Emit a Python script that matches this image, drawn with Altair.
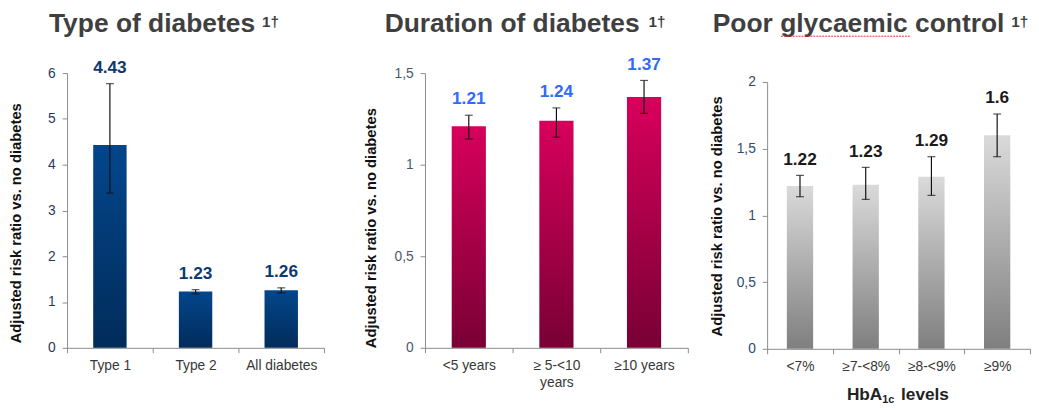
import altair as alt
import pandas as pd

FONT = "Liberation Sans"

# ---------------- data ----------------
type_cats = ["Type 1", "Type 2", "All diabetes"]
type_vals = [4.43, 1.23, 1.26]
type_lo = [3.38, 1.18, 1.20]
type_hi = [5.77, 1.27, 1.31]

dur_cats = ["<5 years", "≥ 5-<10|years", "≥10 years"]
dur_vals = [1.21, 1.24, 1.37]
dur_lo = [1.14, 1.15, 1.28]
dur_hi = [1.27, 1.31, 1.46]

hba_cats = ["<7%", "≥7-<8%", "≥8-<9%", "≥9%"]
hba_vals = [1.22, 1.23, 1.29, 1.6]
hba_lo = [1.14, 1.12, 1.15, 1.44]
hba_hi = [1.30, 1.36, 1.44, 1.76]

titles = ["Type of diabetes", "Duration of diabetes", "Poor glycaemic control"]
title_sup = "1†"
y_title = "Adjusted risk ratio vs. no diabetes"
x_title_parts = ["HbA", "1c", "levels"]

AXIS_GRAY = "#8a8a8a"


def gradient(top, bottom):
    return alt.LinearGradient(
        gradient="linear",
        stops=[alt.GradientStop(color=top, offset=0), alt.GradientStop(color=bottom, offset=1)],
        x1=0, x2=0, y1=0, y2=1,
    )


def panel(cats, vals, lo, hi, *, width, height, ymax, ytop, yvals, band, top, bottom,
          val_color, ylab_color, title_pad, title_y, title, tx, sx):
    df = pd.DataFrame({"cat": cats, "val": vals, "lo": lo, "hi": hi})
    base = alt.Chart(df)
    xaxis = alt.Axis(
        title=None, labelAngle=0, labelFont=FONT, labelFontSize=14, labelColor="#383838",
        labelPadding=6, tickSize=5, tickBand="extent", domainColor=AXIS_GRAY, tickColor=AXIS_GRAY,
        labelExpr="split(datum.label, '|')", labelLineHeight=17, labelBaseline="top",
    )
    x = alt.X("cat:N", sort=None, scale=alt.Scale(paddingInner=0, paddingOuter=0), axis=xaxis)
    yscale = alt.Scale(domain=[0, ymax], range=[height, ytop], nice=False, zero=True)
    yaxis = alt.Axis(
        title=y_title, values=yvals, labelExpr="replace(toString(datum.value), '.', ',')",
        labelFont=FONT, labelFontSize=14, labelColor=ylab_color, labelPadding=7, tickSize=5,
        domainColor=AXIS_GRAY, tickColor=AXIS_GRAY, grid=False,
        titleFont=FONT, titleFontSize=15, titleFontWeight="bold", titleColor="#111111",
        titlePadding=title_pad, titleY=title_y,
    )
    bars = base.mark_bar(width=alt.RelativeBandSize(band), fill=gradient(top, bottom)).encode(
        x=x, y=alt.Y("val:Q", scale=yscale, axis=yaxis)
    )
    rule = base.mark_rule(color="#111111", strokeWidth=1.2).encode(
        x=x, y=alt.Y("lo:Q", scale=yscale, axis=yaxis), y2="hi:Q"
    )
    cap_hi = base.mark_tick(color="#111111", size=8, thickness=1.2).encode(
        x=x, y=alt.Y("hi:Q", scale=yscale, axis=yaxis)
    )
    cap_lo = base.mark_tick(color="#111111", size=8, thickness=1.2).encode(
        x=x, y=alt.Y("lo:Q", scale=yscale, axis=yaxis)
    )
    labels = base.mark_text(
        dy=-7, baseline="bottom", font=FONT, fontSize=17.5, fontWeight="bold", color=val_color
    ).encode(x=x, y=alt.Y("hi:Q", scale=yscale, axis=yaxis), text=alt.Text("val:Q"))

    tdf = pd.DataFrame({"t": [title], "s": [title_sup]})
    tmain = alt.Chart(tdf).mark_text(
        align="right", baseline="alphabetic", font=FONT, fontSize=26.8, fontWeight="bold",
        color="#3f3f3f",
    ).encode(x=alt.value(tx), y=alt.value(-42), text="t:N")
    tsup = alt.Chart(tdf).mark_text(
        align="left", baseline="alphabetic", font=FONT, fontSize=15.5, fontWeight="bold",
        color="#3f3f3f",
    ).encode(x=alt.value(sx), y=alt.value(-47), text="s:N")

    return alt.layer(bars, rule, cap_hi, cap_lo, labels, tmain, tsup).properties(
        width=width, height=height
    )


p1 = panel(type_cats, type_vals, type_lo, type_hi, width=261, height=279, ymax=6, ytop=0,
           yvals=[0, 1, 2, 3, 4, 5, 6], band=0.39, top="#03468c", bottom="#012c5a",
           val_color="#0b3a70", ylab_color="#1f3a60", title_pad=25, title_y=152,
           title=titles[0], tx=191, sx=198)
# invisible extension so that gaps between panels match
ext = alt.Chart(pd.DataFrame({"t": [0]})).mark_rule(strokeOpacity=0, stroke="white").encode(
    x=alt.value(261), x2=alt.value(280), y=alt.value(279)
)
p1 = alt.layer(p1, ext)

p2 = panel(dur_cats, dur_vals, dur_lo, dur_hi, width=267, height=279, ymax=1.5, ytop=0,
           yvals=[0, 0.5, 1, 1.5], band=0.39, top="#d8005c", bottom="#780034",
           val_color="#2f6bf5", ylab_color="#4b5870", title_pad=16, title_y=157,
           title=titles[1], tx=218, sx=227)

p3 = panel(hba_cats, hba_vals, hba_lo, hba_hi, width=267, height=280, ymax=2, ytop=9,
           yvals=[0, 0.5, 1, 1.5, 2], band=0.40, top="#dadada", bottom="#7f7f7f",
           val_color="#1a1a1a", ylab_color="#2f4a6e", title_pad=12, title_y=145,
           title=titles[2], tx=241, sx=248)

xt = pd.DataFrame({"a": [x_title_parts[0]], "b": [x_title_parts[1]], "c": [x_title_parts[2]]})
xt_main = alt.Chart(xt).mark_text(align="left", baseline="alphabetic", font=FONT, fontSize=17.5,
                                  fontWeight="bold", color="#222222").encode(
    x=alt.value(81), y=alt.value(331.5), text="a:N")
xt_sub = alt.Chart(xt).mark_text(align="left", baseline="alphabetic", font=FONT, fontSize=11,
                                 fontWeight="bold", color="#222222").encode(
    x=alt.value(117), y=alt.value(335.5), text="b:N")
xt_end = alt.Chart(xt).mark_text(align="left", baseline="alphabetic", font=FONT, fontSize=17.5,
                                 fontWeight="bold", color="#222222").encode(
    x=alt.value(136), y=alt.value(331.5), text="c:N")
squiggle = alt.Chart(xt).mark_rule(color="#e03030", strokeWidth=1, strokeDash=[2, 1]).encode(
    x=alt.value(14), x2=alt.value(146), y=alt.value(-37.5))
p3 = alt.layer(p3, xt_main, xt_sub, xt_end, squiggle)

chart = alt.hconcat(p1, p2, p3, spacing=20.5).properties(padding=0).configure_view(stroke=None)

chart.save("out.html", embed_options={"renderer": "svg", "actions": False})
